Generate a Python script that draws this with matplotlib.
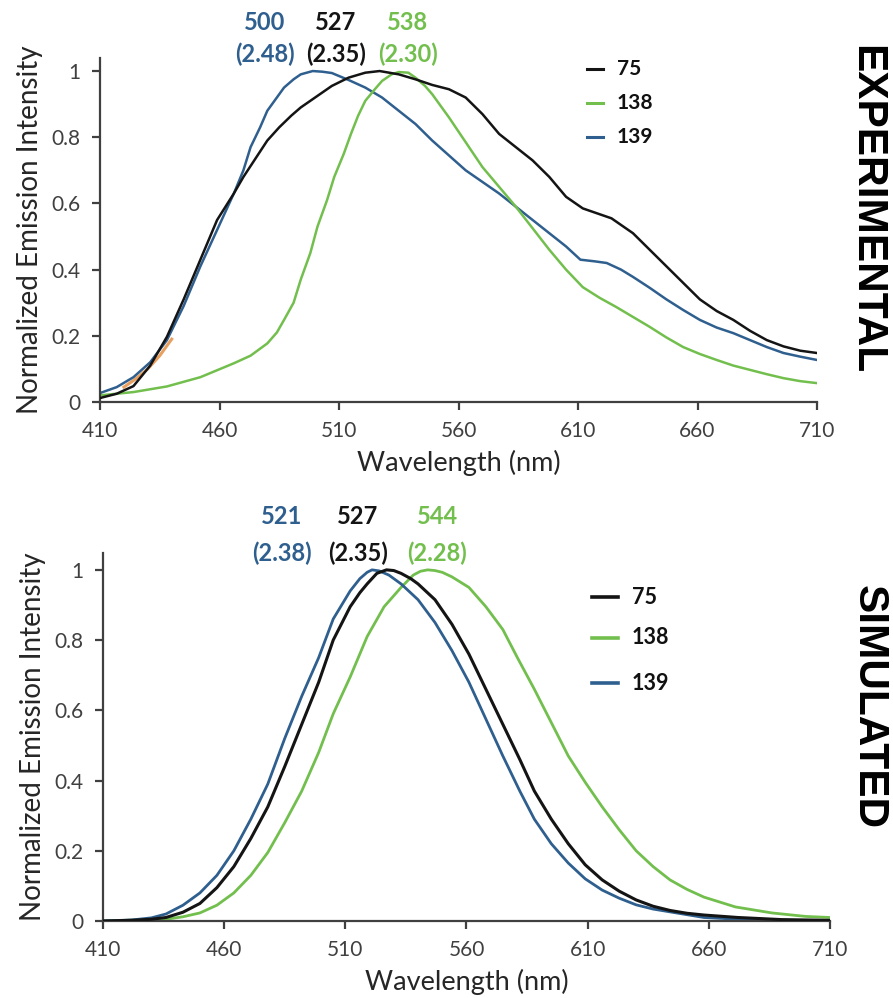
import matplotlib
matplotlib.use("Agg")
import matplotlib.pyplot as plt

FONT = ["Lato", "DejaVu Sans"]
plt.rcParams["font.family"] = FONT

# ---- series colours ----
C75 = "#141414"
C138 = "#72bf4e"
C139 = "#2f5f8e"
CORANGE = "#e8a060"

# ---- experimental spectra (wavelength nm, normalized intensity) ----
exp_wl_75 = [410, 417, 424, 431, 438, 445, 452, 459, 466, 470, 475, 480,
             485, 490, 494, 499, 503, 507, 514, 521, 527, 535, 542, 549, 556,
             563, 570, 577, 584, 591, 598, 605, 612, 618, 624, 633, 640, 647,
             654, 661, 668, 675, 682, 689, 696, 703, 710]
exp_in_75 = [0.012, 0.025, 0.048, 0.11, 0.197, 0.31, 0.43, 0.55, 0.63, 0.68,
             0.735, 0.79, 0.83, 0.865, 0.89, 0.915, 0.935, 0.955, 0.98, 0.995,
             1.0, 0.99, 0.975, 0.958, 0.945, 0.92, 0.87, 0.81, 0.77, 0.73,
             0.68, 0.62, 0.585, 0.57, 0.555, 0.51, 0.46, 0.41, 0.36, 0.31,
             0.275, 0.248, 0.215, 0.187, 0.168, 0.155, 0.148]

exp_wl_138 = [410, 424, 438, 452, 466, 473, 480, 484, 487, 491, 494, 498,
              501, 505, 508, 512, 515, 518, 521, 525, 528, 532, 535, 539, 542,
              546, 549, 556, 563, 570, 577, 584, 591, 598, 605, 612, 619, 626,
              633, 640, 647, 654, 661, 668, 675, 682, 689, 696, 703, 710]
exp_in_138 = [0.02, 0.03, 0.047, 0.075, 0.117, 0.14, 0.177, 0.21, 0.248,
              0.30, 0.37, 0.45, 0.53, 0.61, 0.68, 0.75, 0.81, 0.865, 0.91,
              0.945, 0.97, 0.99, 0.997, 0.995, 0.98, 0.955, 0.93, 0.86, 0.785,
              0.71, 0.65, 0.59, 0.525, 0.46, 0.40, 0.347, 0.315, 0.287, 0.257,
              0.227, 0.195, 0.166, 0.145, 0.127, 0.11, 0.097, 0.084, 0.072,
              0.063, 0.057]

exp_wl_139 = [410, 417, 424, 431, 438, 445, 452, 459, 466, 470, 473, 477,
              480, 484, 487, 491, 494, 499, 503, 507, 514, 521, 528, 535, 542,
              549, 556, 563, 570, 577, 584, 591, 598, 605, 611, 617, 622, 628,
              633, 640, 647, 654, 661, 668, 675, 682, 689, 696, 703, 710]
exp_in_139 = [0.027, 0.045, 0.075, 0.12, 0.187, 0.29, 0.41, 0.52, 0.63,
              0.70, 0.77, 0.83, 0.88, 0.92, 0.95, 0.975, 0.99, 1.0, 0.998,
              0.994, 0.973, 0.95, 0.92, 0.88, 0.84, 0.79, 0.745, 0.70, 0.665,
              0.63, 0.59, 0.55, 0.51, 0.47, 0.43, 0.425, 0.42, 0.40, 0.378,
              0.345, 0.31, 0.278, 0.248, 0.225, 0.208, 0.187, 0.166, 0.148,
              0.137, 0.127]

# faint trace partly hidden under the 75/139 curves at the blue edge
exp_wl_extra = [420, 425, 430, 435, 440]
exp_in_extra = [0.045, 0.07, 0.10, 0.14, 0.19]

# ---- simulated spectra ----
sim_wl_75 = [410, 422, 430, 436, 443, 450, 457, 464, 471, 478, 485, 492,
             499, 505, 512, 516, 519, 523, 527, 530, 533, 537, 540, 547, 554,
             561, 568, 575, 582, 588, 595, 602, 609, 616, 623, 630, 637, 644,
             651, 658, 672, 690, 710]
sim_in_75 = [0.0, 0.002, 0.005, 0.01, 0.025, 0.05, 0.095, 0.155, 0.235,
             0.325, 0.44, 0.56, 0.68, 0.80, 0.895, 0.935, 0.96, 0.99, 1.0,
             0.998, 0.99, 0.975, 0.96, 0.915, 0.845, 0.76, 0.66, 0.56, 0.46,
             0.37, 0.29, 0.22, 0.16, 0.117, 0.085, 0.06, 0.042, 0.03, 0.022,
             0.017, 0.01, 0.004, 0.002]

sim_wl_138 = [410, 436, 443, 450, 457, 464, 471, 478, 485, 492, 499, 505,
              512, 519, 526, 533, 538, 541, 544, 547, 550, 554, 561, 568, 575,
              581, 588, 595, 602, 609, 616, 623, 630, 637, 644, 651, 658, 671,
              686, 700, 710]
sim_in_138 = [0.0, 0.005, 0.012, 0.023, 0.045, 0.08, 0.13, 0.195, 0.28,
              0.37, 0.48, 0.59, 0.695, 0.81, 0.895, 0.95, 0.985, 0.996, 1.0,
              0.998, 0.993, 0.98, 0.95, 0.895, 0.83, 0.75, 0.66, 0.565, 0.47,
              0.395, 0.325, 0.26, 0.20, 0.155, 0.117, 0.09, 0.068, 0.04,
              0.023, 0.013, 0.01]

sim_wl_139 = [410, 422, 430, 436, 443, 450, 457, 464, 471, 478, 485, 492,
              499, 505, 512, 516, 519, 521, 524, 528, 533, 540, 547, 554, 561,
              568, 575, 582, 588, 595, 602, 609, 616, 623, 630, 637, 644, 651,
              658, 672, 690, 710]
sim_in_139 = [0.0, 0.003, 0.009, 0.02, 0.045, 0.08, 0.13, 0.20, 0.29, 0.39,
              0.52, 0.64, 0.75, 0.86, 0.94, 0.975, 0.993, 1.0, 0.997, 0.985,
              0.96, 0.915, 0.85, 0.77, 0.68, 0.575, 0.47, 0.37, 0.29, 0.22,
              0.165, 0.12, 0.088, 0.065, 0.046, 0.034, 0.026, 0.018, 0.01,
              0.005, 0.002, 0.001]

series_names = ["75", "138", "139"]
series_colors = [C75, C138, C139]

x_ticks = [410, 460, 510, 560, 610, 660, 710]
y_ticks = [0, 0.2, 0.4, 0.6, 0.8, 1.0]
y_tick_labels = ["0", "0.2", "0.4", "0.6", "0.8", "1"]

exp_peaks = [("500", "(2.48)", C139), ("527", "(2.35)", C75), ("538", "(2.30)", C138)]
sim_peaks = [("521", "(2.38)", C139), ("527", "(2.35)", C75), ("544", "(2.28)", C138)]

W, H = 893, 998
fig = plt.figure(figsize=(W / 100, H / 100), dpi=100)

AXIS_COL = "#404040"


def style_axes(ax, ytop):
    ax.set_xlim(410, 710)
    ax.set_ylim(0, ytop)
    ax.set_xticks(x_ticks)
    ax.set_yticks(y_ticks)
    ax.set_yticklabels(y_tick_labels)
    for s in ("top", "right"):
        ax.spines[s].set_visible(False)
    for s in ("left", "bottom"):
        ax.spines[s].set_color(AXIS_COL)
        ax.spines[s].set_linewidth(1.6)
    ax.tick_params(axis="both", direction="out", length=6, width=1.6,
                   color=AXIS_COL, labelcolor=AXIS_COL, labelsize=15)
    ax.tick_params(axis="x", pad=8)
    ax.tick_params(axis="y", pad=8)
    ax.set_xlabel("Wavelength (nm)", fontsize=19.5, color="#262626", labelpad=6)
    ax.set_ylabel("Normalized Emission Intensity", fontsize=20,
                  color="#262626", labelpad=6)


def px(x, y):
    return x / W, 1 - y / H


# ---- top panel: experimental ----
ax1 = fig.add_axes([100 / W, 1 - 402 / H, 717 / W, (402 - 57.8) / H])
ax1.plot(exp_wl_extra, exp_in_extra, color=CORANGE, lw=2.2, zorder=1)
ax1.plot(exp_wl_139, exp_in_139, color=C139, lw=1.8, zorder=2)
ax1.plot(exp_wl_138, exp_in_138, color=C138, lw=1.8, zorder=2)
ax1.plot(exp_wl_75, exp_in_75, color=C75, lw=1.8, zorder=3)
style_axes(ax1, 1.04)

# ---- bottom panel: simulated ----
ax2 = fig.add_axes([103 / W, 1 - 921 / H, 727 / W, (921 - 553) / H])
ax2.plot(sim_wl_138, sim_in_138, color=C138, lw=2.0, zorder=2)
ax2.plot(sim_wl_139, sim_in_139, color=C139, lw=2.0, zorder=2)
ax2.plot(sim_wl_75, sim_in_75, color=C75, lw=2.2, zorder=3)
style_axes(ax2, 1.048)

# ---- legends (short line keys + bold labels) ----
def legend(x0, x1, xt, ys, lw, fs):
    for name, col, yy in zip(series_names, series_colors, ys):
        fig.add_artist(plt.Line2D([x0 / W, x1 / W], [1 - yy / H, 1 - yy / H],
                                  color=col, lw=lw, transform=fig.transFigure))
        fig.text(xt / W, 1 - yy / H, name, fontsize=fs, fontweight="bold",
                 color="#111111", va="center", ha="left")


legend(587, 603, 617, [69, 103, 137], 2.2, 15)
legend(592, 618, 632, [597, 638, 683], 2.6, 15.5)

# ---- peak annotations ----
def peaks(items, xs, y_num, y_par):
    for (num, ev, col), xc in zip(items, xs):
        fig.text(*px(xc, y_num), num, fontsize=17, fontweight="bold",
                 color=col, ha="center", va="center")
        fig.text(*px(xc, y_par), ev, fontsize=17, fontweight="bold",
                 color=col, ha="center", va="center")


peaks(exp_peaks, [265, 336, 408], 22, 54)
peaks(sim_peaks, [282, 358, 437], 517, 553)

# ---- panel titles on the right ----
SIDE_FONT = ["Liberation Sans Narrow", "Liberation Sans", "DejaVu Sans"]
fig.text(*px(866, 210), "EXPERIMENTAL", rotation=270, fontsize=30.5,
         fontweight="bold", family=SIDE_FONT, ha="center", va="center",
         color="#000000")
fig.text(*px(869, 707), "SIMULATED", rotation=270, fontsize=30.5,
         fontweight="bold", family=SIDE_FONT, ha="center", va="center",
         color="#000000")

fig.savefig("out.png", dpi=100)
